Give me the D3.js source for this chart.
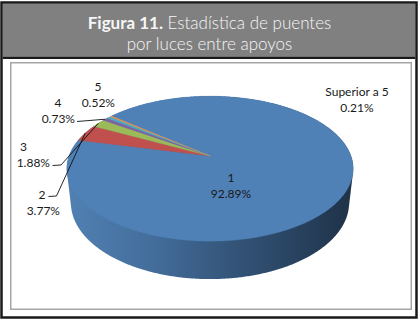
<!DOCTYPE html>
<html><head><meta charset="utf-8">
<script src="https://cdn.jsdelivr.net/npm/d3@7"></script>
<style>html,body{margin:0;padding:0;background:#fff}svg{display:block}</style>
</head><body><svg id="c" width="419" height="320"></svg>
<script>
// ---- data ----
const categories = ["1", "2", "3", "4", "5", "Superior a 5"];
const values = [92.89, 3.77, 1.88, 0.73, 0.52, 0.21];
const sliceColors = ["#4F80B6", "#C0504D", "#9BBB59", "#8064A2", "#4BACC6", "#F79646"];
const titleBold = "Figura 11.";
const titleRest = " Estadística de puentes";
const titleLine2 = "por luces entre apoyos";

// ---- layout ----
const W = 419, H = 320;
const svg = d3.select("#c");
const font = "Lato, 'Open Sans', sans-serif";

// frame
svg.append("rect").attr("x",0).attr("y",0).attr("width",W).attr("height",H).attr("fill","#fff");
svg.append("rect").attr("x",2.75).attr("y",3.75).attr("width",412.5).attr("height",52.9).attr("fill","#808080");
svg.append("rect").attr("x",2.75).attr("y",56.6).attr("width",412.5).attr("height",2.4).attr("fill","#1a1a1a");
svg.append("rect").attr("x",1.5).attr("y",2.5).attr("width",415).attr("height",315)
  .attr("fill","none").attr("stroke","#1a1a1a").attr("stroke-width",2.5);
svg.append("rect").attr("x",10.75).attr("y",62.75).attr("width",400.5).attr("height",246.5)
  .attr("fill","#fff").attr("stroke","#a6a6a6").attr("stroke-width",1.5);

// title
const t1 = svg.append("text").attr("x",209.5).attr("y",28.5).attr("text-anchor","middle")
  .attr("fill","#f6f6f6").style("font-family",font).style("font-size","17px");
t1.append("tspan").attr("font-weight","bold").text(titleBold);
t1.append("tspan").attr("font-weight","300").text(titleRest);
svg.append("text").attr("x",209.5).attr("y",50).attr("text-anchor","middle").attr("font-weight","300")
  .attr("fill","#f6f6f6").style("font-family",font).style("font-size","17px").text(titleLine2);

// ---- 3D pie projection ----
const cx = 210, cy = 156;
const sinA = 0.4986, cosA = 0.8666;
const Dist = 4.96;             // camera distance in radius units
const kS = 141 * Dist;         // screen scale
const depthH = 0.285;          // pie thickness in radius units
function proj(x, z, y) {
  const depth = Dist - y * sinA + z * cosA;
  const up = y * cosA + z * sinA;
  return [cx + kS * x / depth, cy - kS * up / depth];
}
const rim = (a, y) => proj(Math.sin(a), Math.cos(a), y || 0);

const startDeg = 309.1;
const pie = d3.pie().sort(null).value(d => d.value)
  .startAngle(startDeg * Math.PI / 180).endAngle(startDeg * Math.PI / 180 + 2 * Math.PI);
const arcs = pie(categories.map((c, i) => ({cat: c, value: values[i], i})));

// side wall: hull of top and bottom rims, gradient fill
const grad = svg.append("defs").append("linearGradient").attr("id","side")
  .attr("gradientUnits","userSpaceOnUse").attr("x1",70).attr("x2",350).attr("y1",0).attr("y2",0);
[[0,"#5080B2"],[0.3,"#436D9B"],[0.5,"#385B82"],[0.75,"#2B4766"],[1,"#1F3349"]].forEach(s =>
  grad.append("stop").attr("offset",s[0]).attr("stop-color",s[1]));
const rimPts = [];
for (let i = 0; i < 720; i++) {
  const a = i / 720 * 2 * Math.PI;
  rimPts.push(rim(a, 0));
  rimPts.push(rim(a, -depthH));
}
const hull = d3.polygonHull(rimPts);
svg.append("path").attr("d", d3.line()(hull) + "Z").attr("fill","url(#side)");

// top face slices
const line = d3.line();
arcs.forEach(d => {
  const pts = [proj(0,0,0)];
  const n = Math.max(4, Math.ceil((d.endAngle - d.startAngle) / 0.01));
  for (let j = 0; j <= n; j++) pts.push(rim(d.startAngle + (d.endAngle - d.startAngle) * j / n, 0));
  svg.append("path").attr("d", line(pts) + "Z").attr("fill", sliceColors[d.data.i])
    .attr("stroke", sliceColors[d.data.i]).attr("stroke-width",0.3);
});

// labels
const fmt = v => d3.format(".2f")(v) + "%";
const labelPos = {
  "1": {x: 231, y: 181.5, x2: 231},
  "2": {x: 42, y: 199, x2: 43.3},
  "3": {x: 23.5, y: 150.5, x2: 33.3},
  "4": {x: 58, y: 106.7, x2: 58.3},
  "5": {x: 98, y: 91, x2: 98.3},
  "Superior a 5": {x: 357, y: 95.7, x2: 357}
};
arcs.forEach(d => {
  const p = labelPos[d.data.cat];
  const g = svg.append("g").style("font-family",font).style("font-size","12px").attr("fill","#1a1a1a")
    .attr("text-anchor","middle");
  g.append("text").attr("x",p.x).attr("y",p.y).text(d.data.cat);
  g.append("text").attr("x",p.x2).attr("y",p.y + 16).text(fmt(d.data.value));
});

// leader lines to slice mid-rim
const leaders = {
  "2": [[48.5,196.5],[56.5,196]],
  "3": [[52.5,165.5],[61,165]],
  "4": [[77,121.5]]
};
arcs.forEach(d => {
  const l = leaders[d.data.cat];
  if (!l) return;
  const mid = rim((d.startAngle + d.endAngle) / 2, 0);
  svg.append("path").attr("d", line(l.concat([mid]))).attr("fill","none")
    .attr("stroke","#111").attr("stroke-width",0.9);
});
</script></body></html>
